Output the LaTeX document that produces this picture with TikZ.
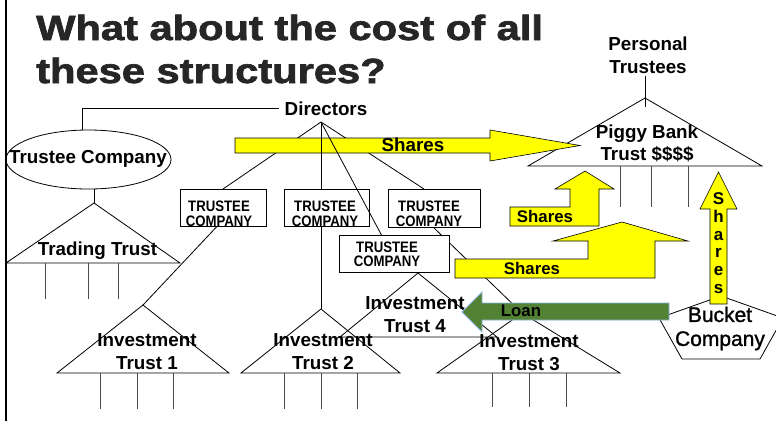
\documentclass[tikz,border=0pt]{standalone}
\usepackage{fontspec}
\setmainfont{Liberation Sans}
\newfontfamily\titlefont[FakeBold=1.8]{Liberation Sans Bold}
\newfontfamily\bucketfont[FakeBold=1.2]{Liberation Sans}
\usetikzlibrary{calc,shapes.geometric}
\definecolor{titlegray}{HTML}{262626}
\definecolor{sharesyellow}{HTML}{FFFF00}
\definecolor{loangreen}{HTML}{548235}
\definecolor{loanedge}{HTML}{8FB4E0}
\newcommand{\tallcaps}[1]{\scalebox{1}[1.15]{#1}}
\begin{document}
\begin{tikzpicture}[x=1pt,y=-1pt,
  lbl/.style={font=\bfseries\fontsize{18.8}{22.7}\selectfont, align=center, inner sep=0pt},
  arrowlbl/.style={font=\bfseries\fontsize{16.8}{19}\selectfont, inner sep=0pt},
  tctext/.style={font=\bfseries\fontsize{13.2}{14.5}\selectfont, align=center, inner sep=0pt},
  tcbox/.style={draw, fill=white, line width=0.8pt, inner sep=0pt},
  trust/.style={draw, line width=0.8pt},
  leg/.style={draw=black!70, line width=1pt},
  link/.style={draw, line width=0.8pt},
  yarrow/.style={draw=black, line width=0.6pt, fill=sharesyellow},
  garrow/.style={draw=loanedge, line width=0.9pt, fill=loangreen},
  titletext/.style={font=\titlefont\fontsize{35}{40}\selectfont, text=titlegray, inner sep=0pt, anchor=base west}
]
\useasboundingbox (0,0) rectangle (776,421);
\clip (0,0) rectangle (776,421);
\fill[white] (0,0) rectangle (776,421);

% left margin rule
\draw[line width=1.2pt] (6,0) -- (6,421);

% title
\node[titletext] (title1) at (36,40) {\scalebox{1.19}[1]{What about the cost of all}};
\node[titletext] (title2) at (36,83) {\scalebox{1.19}[1]{these structures?}};

% ---------- trustee company and trading trust ----------
\node[draw, ellipse, line width=0.8pt, minimum width=165pt, minimum height=59pt, inner sep=0pt] (tcomp) at (88.5,159.5) {};
\node[lbl] (tcomplbl) at (88,159.3) {Trustee Company};
\node[lbl] (dirs) at (326,108.3) {Directors};
\coordinate (dirapex) at (321,122);
\draw[link] (82,130) |- ([xshift=-6pt]dirs.west);

\coordinate (tttop) at (94,203);
\draw[link] (94,189) -- (tttop);
\draw[trust] (tttop) -- (180,263) -- (6,263) -- cycle;
\node[lbl] (ttlbl) at (97.5,250.3) {Trading Trust};
\foreach \x in {45,88,118} \draw[leg] (\x,263) -- (\x,299);

% ---------- links from the directors that pass behind the shares bar ----------
\draw[link] (dirapex) -- (223,189);
\draw[link] (dirapex) -- (424,189);
\draw[link] (432,226) -- (522,313);

% ---------- investment trusts ----------
\coordinate (it1top) at (143,305);
\coordinate (it2top) at (321,309);
\coordinate (it3top) at (522,313);
\coordinate (it4top) at (418,273);
\draw[trust] (it1top) -- (229,373) -- (57,373) -- cycle;
\draw[trust] (it2top) -- (400,373) -- (241,373) -- cycle;
\draw[trust] (it3top) -- (620,373) -- (437,373) -- cycle;
\draw[trust] (it4top) -- (497,337) -- (340,337) -- cycle;
\foreach \x in {100,137,173} \draw[leg] (\x,373) -- (\x,409);
\foreach \x in {284,321,357} \draw[leg] (\x,373) -- (\x,409);
\foreach \x in {492,529,566} \draw[leg] (\x,373) -- (\x,407);
\node[lbl] (it1lbl) at (147,351.5) {Investment\\Trust 1};
\node[lbl] (it2lbl) at (323,351.5) {Investment\\Trust 2};
\node[lbl] (it3lbl) at (529,352.5) {Investment\\Trust 3};
\node[lbl] (it4lbl) at (415,314.5) {Investment\\Trust 4};

% ---------- piggy bank trust ----------
\node[lbl] (ptrust) at (648,55) {Personal\\Trustees};
\coordinate (pbtop) at (645,98);
\draw[link] (645,76) -- (645,107);
\draw[trust] (pbtop) -- (762,166) -- (528,166) -- cycle;
\foreach \x in {620,651,688} \draw[leg] (\x,166) -- (\x,207);
\node[lbl] (pblbl) at (647,143.5) {Piggy Bank\\Trust \$\$\$\$};

% ---------- top shares arrow ----------
\path[yarrow] (235,138) -- (490,138) -- (490,130) -- (580,145.5) -- (490,161) -- (490,153) -- (235,153) -- cycle;
\node[lbl] (shareslbl) at (413,145) {Shares};

% links drawn over the bar
\draw[link] (dirapex) -- (321,189);
\node[tcbox, minimum width=86pt, minimum height=37pt] (tcA) at (223,207.5) {};
\node[tcbox, minimum width=85pt, minimum height=37pt] (tcB) at (326.5,207.5) {};
\node[tcbox, minimum width=92pt, minimum height=38pt] (tcC) at (434,208) {};
\draw[link] (dirapex) -- (382,236);
\node[tcbox, minimum width=110pt, minimum height=37pt] (tcD) at (394,253.5) {};
\node[tctext] (tcAlbl) at (219,214) {\tallcaps{TRUSTEE}\\\tallcaps{COMPANY}};
\node[tctext] (tcBlbl) at (325,214) {\tallcaps{TRUSTEE}\\\tallcaps{COMPANY}};
\node[tctext] (tcClbl) at (429,214) {\tallcaps{TRUSTEE}\\\tallcaps{COMPANY}};
\node[tctext] (tcDlbl) at (387,254.4) {\tallcaps{TRUSTEE}\\\tallcaps{COMPANY}};
\draw[link] ([xshift=-6pt]tcA.south) -- (it1top);
\draw[link] ([xshift=-5.5pt]tcB.south) -- (it2top);

% ---------- bent shares arrows ----------
\path[yarrow] (510,226) -- (599,226) -- (599,189) -- (614,189) -- (585,171) -- (555,189) -- (570,189) -- (570,207) -- (510,207) -- cycle;
\node[arrowlbl] (shares2lbl) at (545,216.5) {Shares};
\path[yarrow] (455,278) -- (655,278) -- (655,241) -- (688,241) -- (622,222) -- (553,241) -- (588,241) -- (588,259) -- (455,259) -- cycle;
\node[arrowlbl] (shares3lbl) at (532,268.5) {Shares};

% ---------- bucket company ----------
\draw[trust] (721,296) -- (783,318) -- (760,359) -- (682,359) -- (659,318) -- cycle;
\node[font=\bucketfont\fontsize{21}{24}\selectfont, align=center, inner sep=0pt] (bucket) at (720,328.5) {Bucket\\Company};
\path[yarrow] (710,304) -- (727,304) -- (727,209) -- (737,209) -- (718.5,172) -- (700,209) -- (710,209) -- cycle;
\node[font=\bfseries\fontsize{17}{17.7}\selectfont, align=center, inner sep=0pt] (vshares) at (718.5,243) {S\\h\\a\\r\\e\\s};

% ---------- loan arrow ----------
\path[garrow] (669,303) -- (482,303) -- (482,292) -- (462,312) -- (482,332) -- (482,320) -- (669,320) -- cycle;
\node[arrowlbl] (loanlbl) at (521,311) {Loan};
\end{tikzpicture}
\end{document}
